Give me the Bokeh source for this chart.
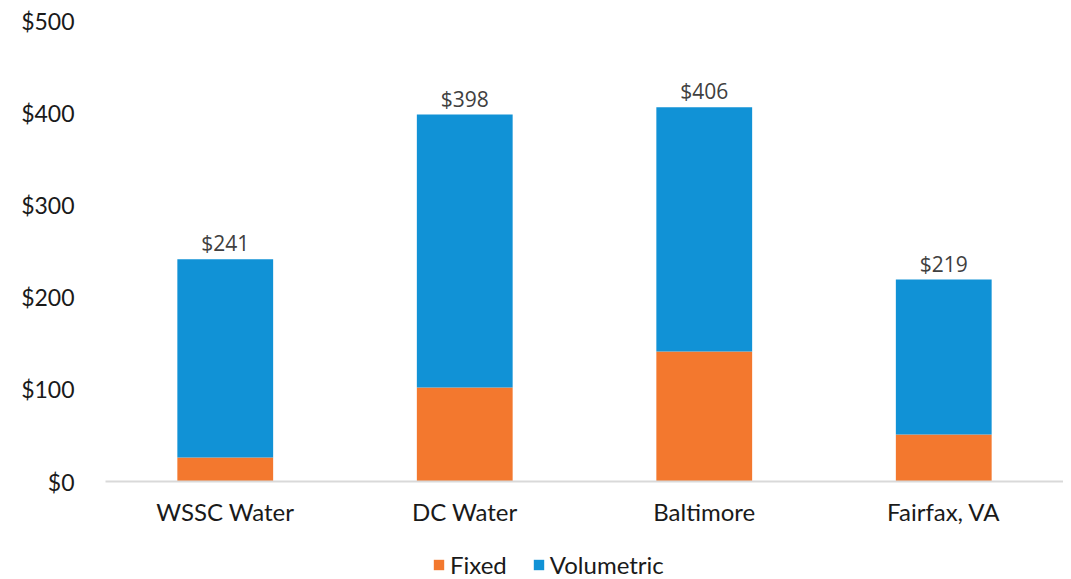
from bokeh.plotting import figure
from bokeh.layouts import column
from bokeh.models import (ColumnDataSource, FactorRange, Range1d, Legend, LegendItem,
                          NumeralTickFormatter, FixedTicker)
from bokeh.embed import file_html
from bokeh.resources import INLINE
from bokeh.core.properties import value

utilities = ["WSSC Water", "DC Water", "Baltimore", "Fairfax, VA"]
fixed = [26, 102, 141, 51]
totals = [241, 398, 406, 219]
volumetric = [t - f for t, f in zip(totals, fixed)]
total_labels = ["$" + str(t) for t in totals]
y_ticks = [0, 100, 200, 300, 400, 500]
series = ["Fixed", "Volumetric"]
colors = ["#F3782E", "#1192D6"]

src = ColumnDataSource(dict(x=utilities, Fixed=fixed, Volumetric=volumetric,
                            total=totals, label=total_labels))

p = figure(x_range=FactorRange(factors=utilities, range_padding=0),
           y_range=Range1d(0, 500),
           width=1063, height=530,
           min_border_left=105, min_border_top=20, min_border_right=0, min_border_bottom=49,
           output_backend="svg", toolbar_location=None)

rs = p.vbar_stack(series, x="x", width=0.4, source=src, color=colors, line_color=None)

p.text(x="x", y="total", text="label", source=src, y_offset=-2,
       text_align="center", text_baseline="bottom",
       text_font=value("Open Sans"), text_font_size="21px", text_color="#404040")

p.xgrid.visible = False
p.ygrid.visible = False
p.outline_line_color = None

p.yaxis.ticker = FixedTicker(ticks=y_ticks)
p.yaxis.formatter = NumeralTickFormatter(format="$0")
p.yaxis.axis_line_color = None
p.yaxis.major_tick_line_color = None
p.yaxis.minor_tick_line_color = None
p.yaxis.major_tick_in = 0
p.yaxis.major_tick_out = 0
p.yaxis.major_label_standoff = 31
p.yaxis.major_label_text_font = "Lato"
p.yaxis.major_label_text_font_size = "23px"
p.yaxis.major_label_text_color = "#1a1a1a"

p.xaxis.axis_line_color = "#d9d9d9"
p.xaxis.axis_line_width = 2
p.xaxis.major_tick_line_color = None
p.xaxis.minor_tick_line_color = None
p.xaxis.major_tick_in = 0
p.xaxis.major_tick_out = 0
p.xaxis.major_label_standoff = 15
p.xaxis.major_label_text_font = "Lato"
p.xaxis.major_label_text_font_size = "24px"
p.xaxis.major_label_text_color = "#1a1a1a"

# legend strip below the chart (its frame is aligned with the chart's frame)
lg = figure(width=1063, height=49, x_range=Range1d(0, 1), y_range=Range1d(0, 1),
            min_border_left=0, min_border_right=0, min_border_top=0, min_border_bottom=0,
            output_backend="svg", toolbar_location=None)
lg.axis.visible = False
lg.grid.visible = False
lg.outline_line_color = None
dummies = [lg.rect(x=[-10], y=[-10], width=1, height=1, color=c, line_color=None) for c in colors]

legend = Legend(items=[LegendItem(label=s, renderers=[r]) for s, r in zip(series, dummies)],
                orientation="horizontal", location=(327, 0),
                label_text_font="Lato", label_text_font_size="24px",
                label_text_color="#1a1a1a", glyph_width=13, glyph_height=13,
                label_standoff=5, spacing=25, padding=0, margin=0,
                border_line_color=None, background_fill_alpha=0)
lg.add_layout(legend, "center")

layout = column(p, lg, spacing=0)
open("out.html", "w").write(file_html(layout, INLINE))
